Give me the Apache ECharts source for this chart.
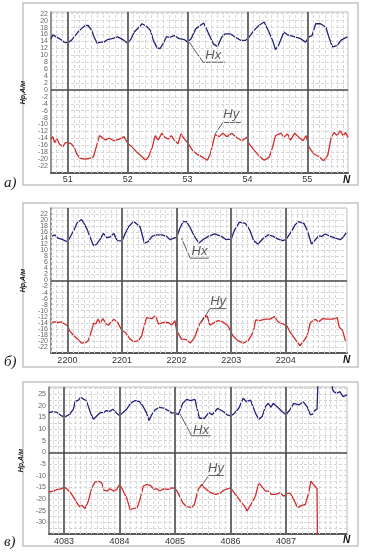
<!DOCTYPE html>
<html><head><meta charset="utf-8">
<script src="https://cdn.jsdelivr.net/npm/echarts@6/dist/echarts.min.js"></script>
<style>html,body{margin:0;padding:0;background:#fff}#c{width:368px;height:555px}</style>
</head><body><div id="c"></div>
<script>
// ---- panel а) ----
const aTicks = [51,52,53,54,55];
const aHx = [[50.72,14.8],[50.75,15.9],[50.78,15.4],[50.83,15.1],[50.89,14.5],[50.94,13.8],[51.00,13.6],[51.06,14.3],[51.11,15.4],[51.17,16.7],[51.23,17.7],[51.29,18.6],[51.31,19.1],[51.34,18.6],[51.40,17.2],[51.44,15.3],[51.49,13.5],[51.54,13.8],[51.60,13.8],[51.66,14.5],[51.74,14.8],[51.83,15.3],[51.89,14.8],[51.94,14.3],[52.00,13.5],[52.05,14.5],[52.11,16.7],[52.19,18.1],[52.24,19.1],[52.32,18.3],[52.38,17.2],[52.43,14.3],[52.49,12.2],[52.54,11.9],[52.59,13.3],[52.65,15.4],[52.70,15.2],[52.78,15.7],[52.86,14.8],[52.95,14.5],[53.00,13.8],[53.06,14.8],[53.14,17.7],[53.27,19.3],[53.34,16.7],[53.43,13.3],[53.50,12.5],[53.57,15.2],[53.63,16.2],[53.71,16.2],[53.80,15.2],[53.89,14.3],[53.97,14.3],[54.03,15.3],[54.11,17.2],[54.19,18.6],[54.28,19.6],[54.36,16.7],[54.42,14.3],[54.47,11.6],[54.53,13.3],[54.61,16.7],[54.67,15.9],[54.78,15.4],[54.89,14.8],[54.97,13.8],[55.03,15.3],[55.08,15.7],[55.14,19.1],[55.22,19.1],[55.31,18.1],[55.36,15.3],[55.42,12.4],[55.50,12.8],[55.56,14.3],[55.61,14.8],[55.67,15.3]];
const aHy = [[50.72,-14.2],[50.75,-13.5],[50.78,-15.2],[50.82,-14.2],[50.86,-15.6],[50.92,-16.4],[50.96,-15.2],[51.00,-15.2],[51.06,-15.6],[51.11,-16.6],[51.15,-18.5],[51.20,-19.7],[51.29,-20.0],[51.37,-19.7],[51.43,-19.3],[51.49,-15.6],[51.53,-13.2],[51.57,-13.7],[51.63,-14.5],[51.69,-13.9],[51.77,-14.7],[51.86,-14.2],[51.94,-13.5],[52.00,-15.4],[52.08,-16.6],[52.16,-18.1],[52.24,-19.3],[52.30,-20.3],[52.35,-19.3],[52.41,-16.6],[52.46,-13.2],[52.51,-14.5],[52.57,-12.5],[52.62,-13.7],[52.68,-14.2],[52.73,-13.2],[52.78,-14.5],[52.84,-15.6],[52.89,-12.7],[52.95,-14.2],[53.00,-15.2],[53.09,-17.6],[53.17,-18.7],[53.26,-19.5],[53.33,-20.3],[53.38,-18.5],[53.46,-12.9],[53.53,-13.5],[53.59,-12.5],[53.66,-13.5],[53.74,-12.5],[53.83,-13.9],[53.91,-14.7],[53.99,-13.7],[54.03,-15.6],[54.11,-17.4],[54.19,-19.0],[54.28,-20.3],[54.36,-19.5],[54.42,-16.6],[54.47,-13.2],[54.56,-12.5],[54.61,-13.7],[54.67,-12.7],[54.72,-14.5],[54.79,-12.5],[54.86,-13.7],[54.93,-14.7],[54.98,-13.2],[55.03,-16.6],[55.11,-18.5],[55.20,-19.3],[55.27,-20.5],[55.34,-19.0],[55.40,-13.7],[55.45,-12.3],[55.50,-13.2],[55.55,-11.8],[55.60,-13.2],[55.64,-12.3],[55.68,-13.7]];
const aHxLead = [[53.03,13.8],[53.26,8.0],[53.63,8.0]];
const aHyLead = [[53.46,-12.7],[53.59,-9.4],[53.89,-9.4]];
const aHxText = [53.43,10.0];
const aHyText = [53.73,-7.0];

// ---- panel б) ----
const bTicks = [2200,2201,2202,2203,2204];
const bHx = [[2199.71,14.6],[2199.77,15.1],[2199.83,14.0],[2199.89,13.7],[2199.95,13.2],[2200.00,12.9],[2200.04,14.0],[2200.12,16.7],[2200.18,19.1],[2200.26,20.2],[2200.32,18.4],[2200.36,17.0],[2200.41,14.6],[2200.48,11.5],[2200.54,12.1],[2200.60,13.7],[2200.66,15.6],[2200.72,14.2],[2200.78,14.4],[2200.85,15.6],[2200.91,13.2],[2201.00,13.1],[2201.06,15.6],[2201.12,17.8],[2201.21,19.5],[2201.26,18.9],[2201.33,17.8],[2201.41,12.4],[2201.48,12.9],[2201.55,14.6],[2201.64,15.1],[2201.73,15.1],[2201.82,14.6],[2201.88,13.5],[2201.95,14.0],[2202.00,14.3],[2202.06,17.3],[2202.12,19.5],[2202.18,19.5],[2202.24,17.8],[2202.32,14.8],[2202.41,12.4],[2202.48,13.5],[2202.58,14.6],[2202.70,15.4],[2202.82,14.6],[2202.91,13.5],[2203.00,13.7],[2203.06,16.7],[2203.15,19.3],[2203.26,18.9],[2203.34,16.7],[2203.41,13.2],[2203.49,12.1],[2203.59,14.0],[2203.68,15.1],[2203.77,14.6],[2203.86,13.7],[2203.94,13.2],[2204.00,13.5],[2204.08,15.6],[2204.17,18.4],[2204.23,19.5],[2204.33,18.9],[2204.39,16.7],[2204.47,12.1],[2204.54,13.5],[2204.60,14.8],[2204.66,14.6],[2204.72,15.4],[2204.82,14.6],[2204.91,14.0],[2205.00,13.5],[2205.06,14.6],[2205.12,16.2]];
const bHy = [[2199.71,-13.9],[2199.77,-13.7],[2199.83,-13.9],[2199.89,-13.7],[2199.95,-14.4],[2200.00,-15.0],[2200.04,-16.6],[2200.12,-18.3],[2200.20,-19.6],[2200.26,-20.7],[2200.34,-20.5],[2200.38,-19.9],[2200.43,-17.4],[2200.48,-14.1],[2200.52,-14.4],[2200.56,-12.8],[2200.60,-14.1],[2200.65,-12.6],[2200.71,-14.4],[2200.75,-14.8],[2200.85,-12.8],[2200.92,-13.9],[2201.00,-16.6],[2201.06,-17.2],[2201.15,-19.4],[2201.21,-20.2],[2201.30,-19.9],[2201.36,-18.3],[2201.45,-12.3],[2201.55,-12.6],[2201.61,-11.7],[2201.67,-14.4],[2201.76,-13.9],[2201.85,-13.9],[2201.91,-14.8],[2201.97,-13.3],[2202.00,-16.6],[2202.09,-19.4],[2202.18,-19.6],[2202.25,-20.7],[2202.33,-18.8],[2202.42,-14.4],[2202.50,-12.3],[2202.56,-11.7],[2202.61,-14.8],[2202.67,-14.1],[2202.76,-13.3],[2202.85,-13.7],[2202.94,-15.0],[2203.03,-18.3],[2203.12,-19.9],[2203.22,-20.7],[2203.31,-19.9],[2203.40,-17.2],[2203.45,-13.0],[2203.52,-13.3],[2203.62,-12.8],[2203.71,-12.8],[2203.79,-11.9],[2203.86,-13.7],[2203.95,-14.4],[2204.02,-15.0],[2204.08,-17.2],[2204.17,-19.4],[2204.26,-21.6],[2204.33,-19.9],[2204.39,-18.3],[2204.45,-13.9],[2204.54,-12.8],[2204.60,-13.7],[2204.68,-12.6],[2204.75,-12.8],[2204.86,-12.8],[2204.94,-12.3],[2204.98,-15.5],[2205.04,-16.6],[2205.09,-19.9],[2205.12,-19.9]];
const bHxLead = [[2202.09,14.0],[2202.25,7.4],[2202.59,7.4]];
const bHyLead = [[2202.45,-13.9],[2202.61,-9.3],[2202.91,-9.3]];
const bHxText = [2202.42,9.7];
const bHyText = [2202.76,-7.0];

// ---- panel в) ----
const cTicks = [4083,4084,4085,4086,4087];
const cHx = [[4082.73,17.0],[4082.81,17.5],[4082.88,17.0],[4082.96,15.6],[4083.00,15.1],[4083.05,15.6],[4083.11,16.5],[4083.17,18.5],[4083.20,21.7],[4083.26,22.4],[4083.30,23.6],[4083.36,22.7],[4083.40,22.2],[4083.44,19.6],[4083.48,16.8],[4083.53,14.2],[4083.59,15.6],[4083.65,17.0],[4083.71,17.0],[4083.76,17.9],[4083.82,17.5],[4083.88,18.5],[4083.94,17.0],[4084.00,15.8],[4084.06,17.0],[4084.13,18.5],[4084.20,21.0],[4084.28,22.2],[4084.36,21.7],[4084.42,19.9],[4084.49,16.8],[4084.53,13.6],[4084.58,16.1],[4084.64,18.2],[4084.72,19.3],[4084.80,18.9],[4084.88,17.9],[4084.94,16.8],[4085.00,17.0],[4085.06,16.1],[4085.14,21.0],[4085.21,22.7],[4085.28,22.2],[4085.36,22.7],[4085.44,14.6],[4085.53,14.6],[4085.61,17.0],[4085.67,16.1],[4085.77,18.9],[4085.87,17.5],[4085.94,16.1],[4086.00,15.6],[4086.06,16.5],[4086.15,18.9],[4086.23,23.2],[4086.29,21.7],[4086.36,22.4],[4086.45,16.8],[4086.51,14.2],[4086.57,15.3],[4086.63,19.6],[4086.68,21.0],[4086.73,19.3],[4086.77,21.0],[4086.85,19.3],[4086.93,17.5],[4087.00,16.1],[4087.08,18.5],[4087.14,21.0],[4087.23,20.3],[4087.31,21.7],[4087.38,19.6],[4087.44,16.1],[4087.49,16.5],[4087.51,17.9],[4087.56,18.5],[4087.59,40],[4087.80,40],[4087.84,27],[4087.86,26],[4087.92,25.3],[4087.97,26],[4088.03,23.9],[4088.10,24.6]];
const cHy = [[4082.73,-17.0],[4082.81,-16.6],[4082.88,-15.9],[4082.96,-15.6],[4083.00,-14.8],[4083.05,-15.6],[4083.12,-17.3],[4083.18,-19.5],[4083.23,-21.6],[4083.28,-23.3],[4083.32,-22.7],[4083.38,-24.1],[4083.44,-20.9],[4083.50,-15.2],[4083.56,-12.8],[4083.62,-12.4],[4083.68,-13.1],[4083.72,-16.2],[4083.78,-16.6],[4083.83,-15.6],[4083.89,-16.6],[4083.95,-15.9],[4084.00,-13.8],[4084.04,-15.2],[4084.08,-17.3],[4084.13,-19.5],[4084.19,-24.4],[4084.25,-24.1],[4084.32,-23.7],[4084.37,-20.2],[4084.43,-14.5],[4084.49,-13.8],[4084.56,-14.2],[4084.62,-15.9],[4084.67,-15.6],[4084.73,-16.6],[4084.79,-15.6],[4084.88,-15.9],[4084.94,-15.2],[4085.00,-15.3],[4085.06,-17.6],[4085.14,-21.6],[4085.21,-23.3],[4085.30,-23.7],[4085.35,-22.3],[4085.42,-15.9],[4085.48,-13.8],[4085.53,-15.2],[4085.58,-16.2],[4085.65,-17.3],[4085.73,-18.0],[4085.81,-17.6],[4085.88,-16.2],[4086.00,-15.2],[4086.09,-18.0],[4086.18,-20.9],[4086.27,-23.7],[4086.30,-25.1],[4086.37,-22.3],[4086.45,-18.8],[4086.51,-13.1],[4086.57,-14.8],[4086.63,-16.6],[4086.69,-16.6],[4086.73,-18.0],[4086.81,-18.0],[4086.90,-17.3],[4086.96,-18.8],[4087.02,-17.6],[4087.08,-17.6],[4087.14,-20.2],[4087.21,-23.7],[4087.29,-22.7],[4087.35,-22.3],[4087.41,-17.3],[4087.45,-12.4],[4087.50,-13.8],[4087.56,-15.6],[4087.57,-45]];
const cHxLead = [[4085.09,16.5],[4085.30,7.1],[4085.64,7.1]];
const cHyLead = [[4085.47,-14.5],[4085.61,-9.9],[4085.88,-9.9]];
const cHxText = [4085.47,9.6];
const cHyText = [4085.74,-7.0];

const panels = [
  {grid:{left:51,top:12,width:297,height:161}, xMin:50.72, xMax:55.68, ticks:aTicks, yMin:-24, yMax:22.5, yInt:2, minorY:false, hx:aHx, hy:aHy, hxLead:aHxLead, hyLead:aHyLead, hxText:aHxText, hyText:aHyText, lblMargin:2},
  {grid:{left:51,top:208,width:296,height:145}, xMin:2199.70, xMax:2205.12, ticks:bTicks, yMin:-24, yMax:24, yInt:2, minorY:false, hx:bHx, hy:bHy, hxLead:bHxLead, hyLead:bHyLead, hxText:bHxText, hyText:bHyText, lblMargin:3},
  {grid:{left:49,top:387,width:298,height:147}, xMin:4082.73, xMax:4088.10, ticks:cTicks, yMin:-35, yMax:28, yInt:5, minorY:true, hx:cHx, hy:cHy, hxLead:cHxLead, hyLead:cHyLead, hxText:cHxText, hyText:cHyText, lblMargin:3}
];

const grids=[], xAxes=[], yAxes=[], series=[];
const gridDash = {color:'#d6d6d6', width:1, type:[3,2]};
panels.forEach((p,i)=>{
  grids.push(Object.assign({show:true, borderColor:'#bdbdbd', borderWidth:1, backgroundColor:'#fff'}, p.grid));
  xAxes.push({gridIndex:i, type:'value', min:p.xMin, max:p.xMax,
    axisLine:{show:true, onZero:false, lineStyle:{color:'#5a5a5a', width:2}},
    axisTick:{show:false}, splitLine:{show:false},
    axisLabel:{customValues:p.ticks, formatter:v=>String(v), color:'#333', fontSize:9, margin:p.lblMargin, fontFamily:'Liberation Sans'}});
  const ya = {gridIndex:i, type:'value', min:p.yMin, max:p.yMax, interval:p.yInt,
    axisLine:{show:true, onZero:false, lineStyle:{color:'#7a7a7a', width:1.5}},
    axisTick:{show:false},
    axisLabel:{fontSize:7, color:'#666', margin:3, showMinLabel:false, showMaxLabel:false, fontFamily:'Liberation Sans'},
    splitLine:{show:true, lineStyle:gridDash},
    name:'Hp,A/м', nameLocation:'middle', nameGap:14, nameRotate:90,
    nameTextStyle:{fontSize:7, fontWeight:'bold', fontStyle:'italic', color:'#222', fontFamily:'Liberation Sans'}};
  if (p.minorY) { ya.minorTick={show:false, splitNumber:2}; ya.minorSplitLine={show:true, lineStyle:gridDash}; }
  yAxes.push(ya);

  // grid decoration lines (minor verticals every 0.1, major at integer N, zero line)
  const ml = [];
  const s = Math.ceil(p.xMin*10), e = Math.floor(p.xMax*10);
  for (let k=s;k<=e;k++){ if (k%10!==0) ml.push({xAxis:k/10, lineStyle:gridDash}); }
  p.ticks.forEach(t=>ml.push({xAxis:t, lineStyle:{color:'#6c6c6c', width:2, type:'solid'}}));
  ml.push({yAxis:0, lineStyle:{color:'#4a4a4a', width:1.5, type:'solid'}});
  series.push({type:'line', xAxisIndex:i, yAxisIndex:i, data:[], silent:true, z:1,
    markLine:{silent:true, symbol:['none','none'], label:{show:false}, animation:false, data:ml}});

  series.push({name:'Hx', type:'line', xAxisIndex:i, yAxisIndex:i, data:p.hx, showSymbol:false, symbol:'none', z:3,
    lineStyle:{color:'#22227a', width:1.3}, clip:true, animation:false});
  series.push({name:'Hy', type:'line', xAxisIndex:i, yAxisIndex:i, data:p.hy, showSymbol:false, symbol:'none', z:3,
    lineStyle:{color:'#d42a2a', width:1.3}, clip:true, animation:false});
  [p.hxLead,p.hyLead].forEach(ld=>series.push({type:'line', xAxisIndex:i, yAxisIndex:i, data:ld, showSymbol:false, symbol:'none', z:4, silent:true,
    lineStyle:{color:'#333', width:0.8}, animation:false}));
  [[p.hxText,'Hx'],[p.hyText,'Hy']].forEach(([pt,t])=>series.push({type:'scatter', xAxisIndex:i, yAxisIndex:i, data:[pt], symbolSize:1, z:5, silent:true,
    itemStyle:{color:'rgba(0,0,0,0)'}, animation:false,
    label:{show:true, position:'inside', formatter:t, fontSize:13, fontStyle:'italic', color:'#333', fontFamily:'Liberation Sans'}}));
});

const frames = [[23,3,335,182],[23,203,335,164],[23,382,335,164]];
const letters = [['а)',183],['б)',362],['в)',542]];
const nLbl = [180,360,540];
const graphic = [];
frames.forEach(f=>graphic.push({type:'rect', shape:{x:f[0],y:f[1],width:f[2],height:f[3]}, style:{fill:'none', stroke:'#c4c4c4', lineWidth:1.5}, z:-1}));
letters.forEach(l=>graphic.push({type:'text', x:4, y:l[1], style:{text:l[0], font:'italic 15px "Liberation Serif"', fill:'#222', textVerticalAlign:'middle'}}));
nLbl.forEach(y=>graphic.push({type:'text', x:343, y:y, style:{text:'N', font:'italic bold 10px "Liberation Sans"', fill:'#111', textVerticalAlign:'middle'}}));

const chart = echarts.init(document.getElementById('c'), null, {renderer:'canvas'});
chart.setOption({animation:false, backgroundColor:'#fff', grid:grids, xAxis:xAxes, yAxis:yAxes, series:series, graphic:graphic});
</script></body></html>
